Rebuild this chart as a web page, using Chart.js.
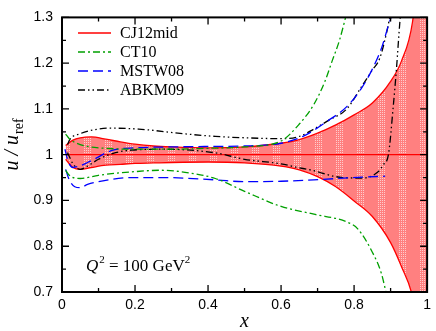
<!DOCTYPE html>
<html>
<head>
<meta charset="utf-8">
<script src="https://cdn.jsdelivr.net/npm/chart.js@4.4.1/dist/chart.umd.min.js"></script>
<style>
  html, body { margin: 0; padding: 0; background: #fff; }
  #wrap { width: 436px; height: 331px; }
</style>
</head>
<body>
<div id="wrap"><canvas id="chart" width="436" height="331"></canvas></div>
<script>
// ---- data (x, u/u_ref) ----
const bandX     = [0.01, 0.03, 0.05, 0.08, 0.12, 0.16, 0.2, 0.25, 0.3, 0.4, 0.5, 0.6, 0.65, 0.7, 0.75, 0.8, 0.85, 0.9, 0.93, 0.96, 1.0];
const bandUpper = [1.02, 1.032, 1.037, 1.039, 1.034, 1.028, 1.023, 1.019, 1.017, 1.015, 1.017, 1.025, 1.033, 1.047, 1.065, 1.087, 1.113, 1.16, 1.205, 1.29, 1.6];
const bandLower = [0.99, 0.972, 0.968, 0.972, 0.977, 0.979, 0.981, 0.982, 0.983, 0.984, 0.982, 0.975, 0.967, 0.952, 0.93, 0.899, 0.865, 0.808, 0.755, 0.69, 0.5];
const centralX  = [0.01, 1.0];
const centralY  = [1.0, 1.0];

const ct10UpX  = [0.01, 0.02, 0.04, 0.07, 0.1, 0.2, 0.3, 0.4, 0.5, 0.6, 0.65, 0.69, 0.72, 0.74, 0.76, 0.78];
const ct10UpY  = [1.045, 1.035, 1.025, 1.018, 1.015, 1.012, 1.012, 1.014, 1.017, 1.03, 1.067, 1.11, 1.16, 1.205, 1.25, 1.31];
const ct10LoX  = [0.01, 0.02, 0.05, 0.1, 0.2, 0.27, 0.35, 0.42, 0.5, 0.6, 0.69, 0.78, 0.81, 0.85, 0.875, 0.89];
const ct10LoY  = [0.966, 0.955, 0.948, 0.955, 0.963, 0.966, 0.96, 0.948, 0.92, 0.887, 0.87, 0.853, 0.838, 0.787, 0.74, 0.69];

const mstwUpX  = [0.008, 0.017, 0.03, 0.05, 0.07, 0.095, 0.12, 0.145, 0.2, 0.3, 0.4, 0.5, 0.6, 0.66, 0.73, 0.78, 0.82, 0.85, 0.876, 0.895, 0.91];
const mstwUpY  = [1.012, 0.985, 0.972, 0.976, 0.983, 0.993, 1.004, 1.011, 1.015, 1.017, 1.018, 1.019, 1.025, 1.04, 1.075, 1.105, 1.145, 1.187, 1.235, 1.285, 1.32];
const mstwLoX  = [0.01, 0.02, 0.035, 0.05, 0.07, 0.1, 0.19, 0.28, 0.42, 0.5, 0.6, 0.69, 0.82, 0.885];
const mstwLoY  = [0.968, 0.945, 0.93, 0.928, 0.935, 0.941, 0.95, 0.95, 0.945, 0.941, 0.942, 0.945, 0.951, 0.953];

const abkmUpX  = [0.015, 0.022, 0.05, 0.085, 0.13, 0.21, 0.33, 0.42, 0.5, 0.6, 0.65, 0.69, 0.73, 0.78, 0.82, 0.85, 0.87, 0.89, 0.9];
const abkmUpY  = [1.022, 1.034, 1.046, 1.054, 1.058, 1.056, 1.046, 1.04, 1.037, 1.035, 1.04, 1.056, 1.075, 1.1, 1.148, 1.185, 1.21, 1.27, 1.31];
const abkmLoX  = [0.015, 0.03, 0.05, 0.07, 0.1, 0.14, 0.19, 0.28, 0.42, 0.5, 0.6, 0.64, 0.69, 0.75, 0.82, 0.865, 0.88, 0.894, 0.907, 0.916, 0.925, 0.93];
const abkmLoY  = [1.005, 0.98, 0.968, 0.975, 0.99, 1.003, 1.01, 1.012, 1.004, 0.99, 0.98, 0.973, 0.965, 0.952, 0.949, 0.962, 0.978, 1.0, 1.103, 1.187, 1.286, 1.33];

const legendNames = ['CJ12mid', 'CT10', 'MSTW08', 'ABKM09'];
const xMajor = [0, 0.2, 0.4, 0.6, 0.8, 1.0];
const yMajor = [0.7, 0.8, 0.9, 1.0, 1.1, 1.2, 1.3];

// ---- styles ----
const RED = '#ff0000', GREEN = '#00a000', BLUE = '#0000ff', BLACK = '#000000';
const dashCT = [7, 3, 2, 3];
const dashMS = [10, 5];
const dashAB = [7, 3, 1.5, 3, 1.5, 3];

function pts(xs, ys) { return xs.map((x, i) => ({ x: x, y: ys[i] })); }

// dotted-stripe pink fill used for the CJ12 band
function bandPattern() {
    const c = document.createElement('canvas');
    c.width = 21; c.height = 4;
    const g = c.getContext('2d');
    g.fillStyle = 'rgb(255,128,128)';
    g.fillRect(0, 0, 21, 4);
    g.fillStyle = 'rgb(255,205,205)';
    for (let x = 0; x < 7; x += 2)
        for (let y = 0; y < 4; y += 2) g.fillRect(x, y, 1, 1);
    return document.getElementById('chart').getContext('2d').createPattern(c, 'repeat');
}

function line(data, color, dash, order) {
    return {
        data: data, borderColor: color, borderWidth: 1.3, borderDash: dash || [],
        pointRadius: 0, fill: false, cubicInterpolationMode: 'monotone', order: order || 0
    };
}

const datasets = [
    line(pts(ct10UpX, ct10UpY), GREEN, dashCT),
    line(pts(ct10LoX, ct10LoY), GREEN, dashCT),
    line(pts(mstwUpX, mstwUpY), BLUE, dashMS),
    line(pts(mstwLoX, mstwLoY), BLUE, dashMS),
    line(pts(abkmUpX, abkmUpY), BLACK, dashAB),
    line(pts(abkmLoX, abkmLoY), BLACK, dashAB),
    line(pts(centralX, centralY), RED, null, 5),
    line(pts(bandX, bandUpper), RED, null, 10),
    Object.assign(line(pts(bandX, bandLower), RED, null, 10), { fill: '-1', backgroundColor: bandPattern() })
];

// inward ticks on all four sides, frame, legend, labels
const decor = {
    id: 'decor',
    afterDraw(chart) {
        const c = chart.ctx, a = chart.chartArea;
        const xs = chart.scales.x, ys = chart.scales.y;
        c.save();
        c.strokeStyle = '#000';
        c.lineWidth = 1.3;
        c.setLineDash([]);
        c.beginPath();
        for (let i = 0; i <= 10; i++) {
            const v = i / 10, px = xs.getPixelForValue(v);
            const L = (i % 2 === 0) ? 7 : 4;
            c.moveTo(px, a.bottom); c.lineTo(px, a.bottom - L);
            c.moveTo(px, a.top); c.lineTo(px, a.top + L);
        }
        for (let i = 0; i <= 12; i++) {
            const v = 0.7 + i * 0.05, py = ys.getPixelForValue(v);
            const L = (i % 2 === 0) ? 7 : 4;
            c.moveTo(a.left, py); c.lineTo(a.left + L, py);
            c.moveTo(a.right, py); c.lineTo(a.right - L, py);
        }
        c.stroke();
        c.lineWidth = 2;
        c.strokeRect(a.left, a.top, a.right - a.left, a.bottom - a.top);

        // legend
        const styles = [[RED, []], [GREEN, dashCT], [BLUE, dashMS], [BLACK, dashAB]];
        c.font = '16px "Liberation Serif", "Times New Roman", serif';
        c.textBaseline = 'middle';
        c.fillStyle = '#000';
        legendNames.forEach((name, i) => {
            const y = 33 + i * 19;
            c.strokeStyle = styles[i][0];
            c.setLineDash(styles[i][1]);
            c.lineWidth = 1.3;
            c.beginPath(); c.moveTo(78, y); c.lineTo(111, y); c.stroke();
            c.fillText(name, 120, y + 1);
        });
        c.setLineDash([]);

        // Q^2 annotation
        c.textBaseline = 'alphabetic';
        let x = 86; const base = 271;
        c.font = 'italic 17px "Liberation Serif", serif';
        c.fillText('Q', x, base); x += c.measureText('Q').width + 1;
        c.font = '11px "Liberation Serif", serif';
        c.fillText('2', x, base - 8); x += c.measureText('2').width;
        c.font = '17px "Liberation Serif", serif';
        const mid = ' = 100 GeV';
        c.fillText(mid, x, base); x += c.measureText(mid).width;
        c.font = '11px "Liberation Serif", serif';
        c.fillText('2', x, base - 8);

        // x axis title
        c.font = 'italic 20px "Liberation Serif", serif';
        c.textAlign = 'center';
        c.fillText('x', (a.left + a.right) / 2, 327);

        // y axis title: u / u_ref
        c.translate(18, 145);
        c.rotate(-Math.PI / 2);
        c.textAlign = 'left';
        c.font = 'italic 20px "Liberation Serif", serif';
        const main = 'u / u';
        c.font = '14px "Liberation Serif", serif';
        const subW = c.measureText('ref').width;
        c.font = 'italic 20px "Liberation Serif", serif';
        const mainW = c.measureText(main).width;
        const sx = -(mainW + subW) / 2;
        c.fillText(main, sx, 0);
        c.font = '14px "Liberation Serif", serif';
        c.fillText('ref', sx + mainW + 1, 5);
        c.restore();
    }
};

new Chart(document.getElementById('chart'), {
    type: 'line',
    data: { datasets: datasets },
    options: {
        responsive: false,
        animation: false,
        layout: { padding: { top: 6, right: 4, left: 0, bottom: 0 } },
        plugins: { legend: { display: false }, tooltip: { enabled: false }, filler: { propagate: false } },
        scales: {
            x: {
                type: 'linear', min: 0, max: 1,
                afterFit: s => { s.height = 39; },
                afterBuildTicks: s => { s.ticks = xMajor.map(v => ({ value: v })); },
                grid: { display: false, drawTicks: false },
                border: { display: false },
                ticks: {
                    padding: 5, color: '#000', maxRotation: 0,
                    font: { family: '"Liberation Sans", Arial, sans-serif', size: 14 },
                    callback: v => String(+v.toFixed(2))
                }
            },
            y: {
                type: 'linear', min: 0.7, max: 1.3,
                afterFit: s => { s.width = 62; },
                afterBuildTicks: s => { s.ticks = yMajor.map(v => ({ value: v })); },
                grid: { display: false, drawTicks: false },
                border: { display: false },
                ticks: {
                    padding: 9, color: '#000',
                    font: { family: '"Liberation Sans", Arial, sans-serif', size: 14 },
                    callback: v => String(+v.toFixed(2))
                }
            }
        }
    },
    plugins: [decor]
});
</script>
</body>
</html>
